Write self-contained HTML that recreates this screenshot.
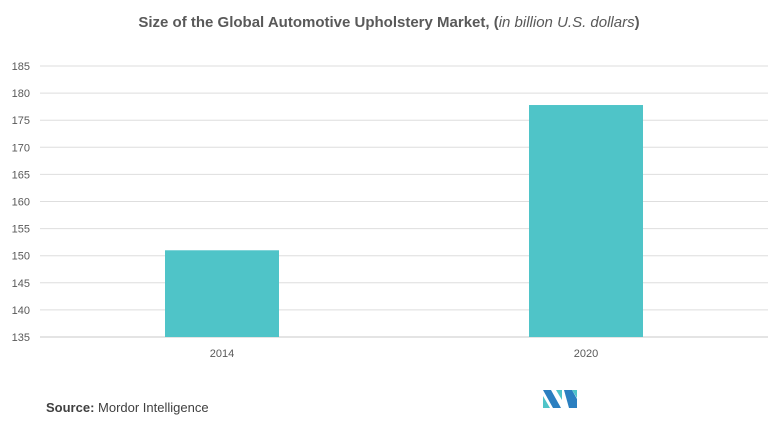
<!DOCTYPE html>
<html><head><meta charset="utf-8"><style>
body{margin:0;background:#fff;font-family:"Liberation Sans",Arial,sans-serif}
svg{display:block}
</style></head><body>
<svg width="778" height="425" id="c">
<text x="389" y="27" text-anchor="middle" font-size="15" font-weight="bold" fill="#595959">Size of the Global Automotive Upholstery Market, (<tspan font-style="italic" font-weight="normal">in billion U.S. dollars</tspan>)</text>
<g id="grid"></g><g id="bars"></g><g id="xl"></g>
<text x="46" y="412" font-size="13" fill="#404040"><tspan font-weight="bold">Source:</tspan> Mordor Intelligence</text>
<g>
<polygon points="543,390 551,390 561,408 553,408" fill="#2b7fc0"/>
<polygon points="543,396 550,408 543,408" fill="#4fc4c8"/>
<polygon points="556,390 562,390 562,400" fill="#4fc4c8"/>
<polygon points="564,390 572,390 577,399 577,408 569,408" fill="#2b7fc0"/>
<polygon points="572,390 577,390 577,398" fill="#4fc4c8"/>
</g>
</svg>
<script>
const categories=["2014","2020"];
const values=[151,177.8];
const ticks=[135,140,145,150,155,160,165,170,175,180,185];
const ns="http://www.w3.org/2000/svg";
const y=v=>337-(v-135)*(271/50);
const x=i=>40+364*i+182;
function mk(t,a,p){const e=document.createElementNS(ns,t);for(const k in a)e.setAttribute(k,a[k]);p.appendChild(e);return e;}
const g=document.getElementById('grid');
ticks.forEach(t=>{
 const l=mk('line',{x1:40,x2:768,y1:y(t),y2:y(t),stroke:t===135?'#c8c8c8':'#dedede','stroke-width':1},g);
 
 
 const tx=mk('text',{x:30,y:y(t)+4,'text-anchor':'end','font-size':11,fill:'#595959'},g);
 tx.textContent=t;
 
 
});
const b=document.getElementById('bars'),xl=document.getElementById('xl');
categories.forEach((c,i)=>{
 const r=mk('rect',{x:x(i)-57,width:114,y:y(values[i]),height:337-y(values[i]),fill:'#4fc4c8'},b);
 
 
 const t=mk('text',{x:x(i),y:357,'text-anchor':'middle','font-size':11,fill:'#595959'},xl);
 t.textContent=c;
 
 
});
</script>
</body></html>
